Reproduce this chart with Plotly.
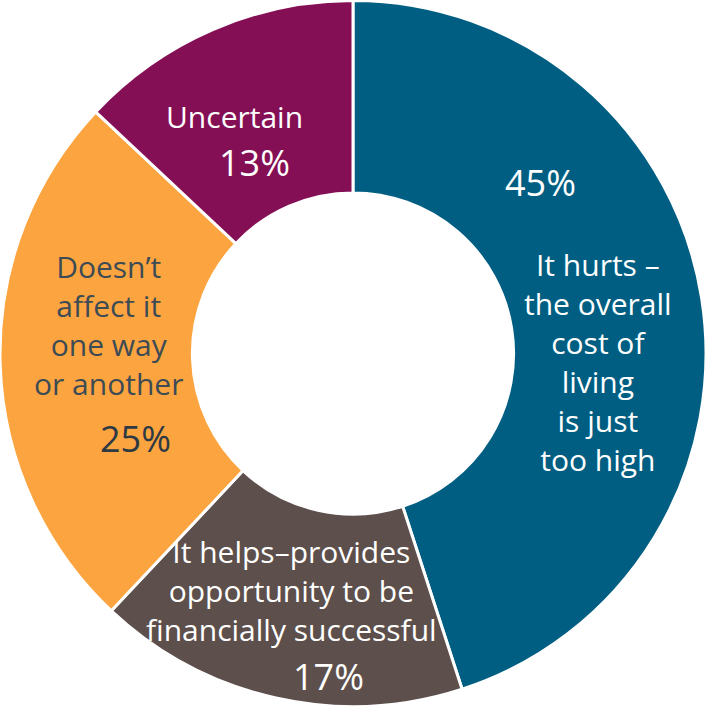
import plotly.graph_objects as go

labels = ["It hurts –<br>the overall<br>cost of<br>living<br>is just<br>too high",
          "It helps–provides<br>opportunity to be<br>financially successful",
          "Doesn’t<br>affect it<br>one way<br>or another",
          "Uncertain"]
values = [45, 17, 25, 13]
colors = ["#005e82", "#5d4f4b", "#fca43f", "#850f55"]
label_colors = ["#ffffff", "#ffffff", "#3d4b55", "#ffffff"]
pct_colors = ["#ffffff", "#ffffff", "#2d3a44", "#ffffff"]

# annotation placements (pixel centers) for label and percent
label_pos = [(598, 362), (291, 590), (108, 325), (234, 116)]
pct_pos = [(540, 183), (328, 676), (135, 438), (254, 163)]

W, H = 706, 707
FONT = "Open Sans, Liberation Sans, Arial, sans-serif"

fig = go.Figure(go.Pie(
    values=values,
    labels=[l.replace("<br>", " ") for l in labels],
    marker=dict(colors=colors, line=dict(color="white", width=3)),
    hole=0.455,
    sort=False,
    direction="clockwise",
    rotation=0,
    textinfo="none",
    hoverinfo="label+percent",
    domain=dict(x=[0, 1], y=[0, 1]),
))

annotations = []
for i, lab in enumerate(labels):
    lx, ly = label_pos[i]
    px, py = pct_pos[i]
    annotations.append(dict(x=lx / W, y=1 - ly / H, xref="paper", yref="paper",
                            text=lab, showarrow=False, xanchor="center", yanchor="middle",
                            font=dict(family=FONT, size=30, color=label_colors[i])))
    annotations.append(dict(x=px / W, y=1 - py / H, xref="paper", yref="paper",
                            text=f"{values[i]}%", showarrow=False, xanchor="center", yanchor="middle",
                            font=dict(family=FONT, size=36, color=pct_colors[i])))

fig.update_layout(
    width=W, height=H,
    margin=dict(l=0, r=0, t=0, b=0),
    showlegend=False,
    paper_bgcolor="white",
    plot_bgcolor="white",
    annotations=annotations,
)

fig.write_html("out.html")
